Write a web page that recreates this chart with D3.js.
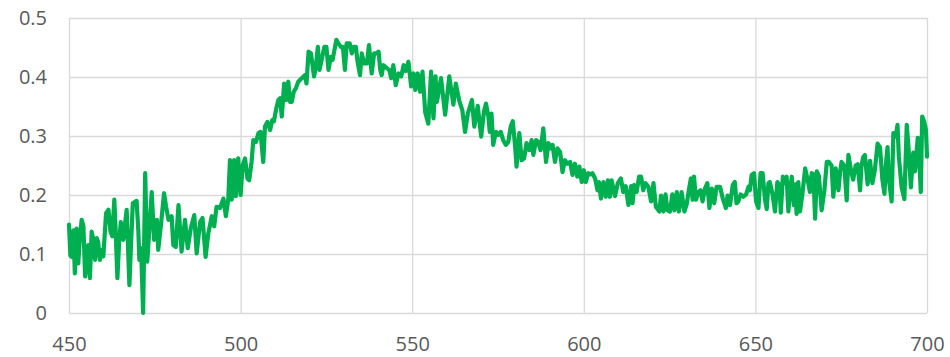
<!DOCTYPE html>
<html>
<head>
<meta charset="utf-8">
<script src="https://cdn.jsdelivr.net/npm/d3@7"></script>
<style>
  html, body { margin: 0; padding: 0; background: #ffffff; }
  svg { display: block; }
  .axis text { font-family: "Open Sans", "Liberation Sans", sans-serif; font-size: 20px; fill: #595959; }
  .axis line { stroke: #d9d9d9; stroke-width: 1.3px; }
  .axis .domain { display: none; }
</style>
</head>
<body>
<svg id="chart" width="950" height="357"></svg>
<script>
// Spectrum samples: wavelength (nm) and measured value
const wavelengths = [
  450.0, 450.4, 450.8, 451.3, 451.7, 452.2, 452.7, 453.2, 453.7, 454.2, 454.7, 455.2, 455.6, 456.1, 456.6, 457.1,
  457.6, 458.1, 458.5, 459.0, 459.5, 460.0, 460.8, 461.5, 462.1, 462.6, 463.2, 463.6, 464.1, 464.6, 465.1, 465.8,
  466.8, 467.6, 468.1, 468.6, 469.7, 470.2, 470.5, 471.0, 471.6, 472.2, 472.8, 473.5, 474.1, 474.8, 475.6, 476.0,
  476.8, 477.7, 478.3, 479.0, 479.9, 480.4, 481.1, 481.9, 482.8, 483.8, 484.6, 485.5, 486.5, 487.2, 488.2, 488.9,
  489.8, 490.6, 491.6, 492.3, 493.0, 494.0, 495.0, 495.7, 496.4, 496.9, 497.4, 498.1, 498.6, 499.3, 500.0, 500.6,
  501.3, 502.0, 502.5, 503.2, 503.7, 504.5, 505.2, 505.8, 506.6, 507.1, 507.8, 508.6, 509.2, 509.7, 510.4, 511.0,
  511.5, 512.0, 512.7, 513.3, 513.9, 514.4, 514.9, 515.5, 516.1, 516.8, 517.8, 518.7, 519.2, 519.8, 520.5, 521.4,
  521.9, 522.5, 523.0, 523.8, 524.4, 525.0, 525.6, 526.3, 526.8, 527.9, 528.5, 529.2, 529.8, 530.4, 530.9, 531.8,
  532.4, 533.0, 533.6, 534.0, 534.8, 535.3, 536.0, 536.8, 537.4, 538.2, 538.9, 539.6, 540.2, 540.7, 541.1, 541.6,
  542.6, 543.3, 543.9, 544.5, 545.2, 546.0, 546.8, 547.5, 548.1, 548.9, 549.7, 550.4, 550.9, 551.6, 552.3, 553.0,
  553.8, 554.7, 555.5, 556.2, 556.8, 557.2, 558.4, 559.6, 560.8, 562.0, 562.7, 563.7, 564.6, 565.4, 566.2, 567.4,
  568.1, 569.1, 570.1, 570.9, 571.5, 572.2, 572.6, 573.1, 573.6, 574.4, 575.1, 575.8, 576.5, 577.3, 578.0, 578.7,
  579.3, 580.0, 580.4, 581.2, 581.9, 582.6, 583.3, 584.1, 584.8, 585.3, 586.1, 586.7, 587.4, 588.2, 589.0, 589.7,
  590.3, 590.9, 591.6, 592.3, 593.1, 593.8, 594.5, 595.2, 596.0, 596.7, 597.4, 598.1, 598.7, 599.4, 600.0, 600.6,
  601.3, 602.0, 602.5, 603.3, 604.0, 604.4, 605.0, 605.7, 606.4, 607.0, 607.6, 608.1, 609.1, 609.9, 610.8, 611.5,
  612.2, 613.0, 613.8, 614.2, 614.7, 615.4, 616.1, 616.7, 617.3, 618.0, 618.8, 619.6, 620.3, 621.0, 622.0, 622.5,
  623.2, 623.8, 624.4, 625.1, 625.8, 626.4, 627.1, 627.7, 628.5, 629.3, 630.0, 630.6, 631.2, 631.7, 632.1, 632.7,
  633.4, 634.0, 634.6, 635.3, 636.0, 636.6, 637.3, 638.0, 638.7, 639.7, 640.5, 641.4, 641.9, 642.6, 643.4, 644.0,
  644.5, 645.0, 645.7, 646.5, 647.3, 648.0, 648.4, 648.9, 649.6, 650.2, 650.9, 651.5, 652.1, 652.8, 653.3, 653.8,
  654.2, 655.0, 655.7, 656.4, 657.0, 657.4, 658.0, 658.6, 659.1, 659.6, 660.1, 660.6, 661.2, 661.6, 662.0, 662.5,
  663.0, 663.7, 664.5, 665.2, 665.9, 666.4, 666.9, 667.4, 667.9, 668.5, 669.3, 670.1, 670.8, 671.4, 672.2, 672.7,
  673.4, 674.2, 674.7, 675.1, 675.9, 676.6, 677.1, 677.9, 678.5, 679.2, 679.8, 680.5, 680.9, 681.4, 681.9, 682.7,
  683.4, 684.1, 684.8, 685.6, 686.3, 687.0, 687.6, 688.0, 688.5, 688.9, 689.7, 690.2, 690.9, 691.4, 691.8, 692.6,
  693.4, 694.1, 694.6, 695.3, 696.0, 696.5, 697.3, 697.7, 698.2, 698.6, 699.2, 699.7, 700.0
];

const values = [
  0.150, 0.097, 0.095, 0.140, 0.067, 0.143, 0.084, 0.130, 0.158, 0.147, 0.062, 0.090, 0.115, 0.059, 0.138, 0.124,
  0.090, 0.127, 0.120, 0.090, 0.107, 0.096, 0.169, 0.175, 0.138, 0.130, 0.192, 0.140, 0.059, 0.120, 0.154, 0.124,
  0.175, 0.047, 0.120, 0.186, 0.190, 0.140, 0.090, 0.110, 0.000, 0.237, 0.087, 0.150, 0.205, 0.124, 0.158, 0.107,
  0.150, 0.203, 0.180, 0.158, 0.164, 0.115, 0.112, 0.183, 0.104, 0.158, 0.110, 0.144, 0.166, 0.101, 0.154, 0.161,
  0.095, 0.135, 0.164, 0.147, 0.180, 0.178, 0.194, 0.164, 0.192, 0.259, 0.192, 0.259, 0.198, 0.262, 0.200, 0.250,
  0.262, 0.228, 0.225, 0.256, 0.293, 0.290, 0.305, 0.307, 0.256, 0.316, 0.324, 0.310, 0.327, 0.325, 0.347, 0.361,
  0.364, 0.333, 0.389, 0.361, 0.392, 0.358, 0.358, 0.375, 0.381, 0.392, 0.398, 0.403, 0.389, 0.443, 0.440, 0.401,
  0.415, 0.451, 0.412, 0.434, 0.451, 0.451, 0.412, 0.434, 0.429, 0.463, 0.457, 0.451, 0.451, 0.412, 0.457, 0.457,
  0.440, 0.451, 0.451, 0.429, 0.403, 0.440, 0.423, 0.423, 0.454, 0.406, 0.440, 0.440, 0.443, 0.412, 0.403, 0.420,
  0.415, 0.412, 0.398, 0.420, 0.386, 0.406, 0.401, 0.420, 0.410, 0.426, 0.384, 0.406, 0.378, 0.406, 0.375, 0.409,
  0.340, 0.321, 0.409, 0.330, 0.401, 0.358, 0.398, 0.336, 0.401, 0.353, 0.389, 0.360, 0.344, 0.307, 0.338, 0.361,
  0.316, 0.351, 0.299, 0.341, 0.355, 0.333, 0.307, 0.338, 0.285, 0.307, 0.302, 0.307, 0.293, 0.285, 0.290, 0.316,
  0.325, 0.282, 0.248, 0.305, 0.259, 0.262, 0.288, 0.276, 0.293, 0.268, 0.293, 0.290, 0.276, 0.313, 0.256, 0.288,
  0.279, 0.285, 0.256, 0.279, 0.273, 0.239, 0.259, 0.253, 0.256, 0.234, 0.253, 0.231, 0.248, 0.222, 0.242, 0.222,
  0.237, 0.235, 0.237, 0.228, 0.208, 0.222, 0.194, 0.222, 0.197, 0.225, 0.197, 0.225, 0.198, 0.220, 0.228, 0.205,
  0.215, 0.183, 0.215, 0.186, 0.217, 0.205, 0.231, 0.231, 0.208, 0.220, 0.214, 0.189, 0.220, 0.180, 0.172, 0.199,
  0.172, 0.201, 0.174, 0.172, 0.201, 0.174, 0.205, 0.172, 0.205, 0.172, 0.185, 0.208, 0.228, 0.192, 0.231, 0.192,
  0.205, 0.208, 0.189, 0.211, 0.220, 0.178, 0.211, 0.186, 0.214, 0.214, 0.194, 0.178, 0.199, 0.183, 0.217, 0.222,
  0.186, 0.189, 0.201, 0.197, 0.201, 0.214, 0.208, 0.234, 0.237, 0.189, 0.178, 0.237, 0.237, 0.192, 0.176, 0.220,
  0.222, 0.201, 0.172, 0.222, 0.217, 0.170, 0.231, 0.220, 0.231, 0.172, 0.208, 0.231, 0.183, 0.218, 0.168, 0.222,
  0.172, 0.202, 0.245, 0.226, 0.205, 0.237, 0.235, 0.160, 0.240, 0.232, 0.174, 0.208, 0.256, 0.256, 0.250, 0.197,
  0.245, 0.208, 0.240, 0.256, 0.250, 0.191, 0.268, 0.240, 0.226, 0.250, 0.252, 0.208, 0.249, 0.264, 0.268, 0.218,
  0.258, 0.220, 0.242, 0.287, 0.281, 0.226, 0.202, 0.250, 0.281, 0.226, 0.189, 0.305, 0.299, 0.319, 0.265, 0.213,
  0.193, 0.319, 0.281, 0.213, 0.272, 0.240, 0.297, 0.265, 0.205, 0.333, 0.324, 0.310, 0.265
];

const xTicks = [450, 500, 550, 600, 650, 700];
const yTicks = [0, 0.1, 0.2, 0.3, 0.4, 0.5];

const margin = { top: 18, right: 23, bottom: 44, left: 69 };
const width = 950, height = 357;
const innerW = width - margin.left - margin.right;
const innerH = height - margin.top - margin.bottom;

const svg = d3.select("#chart");
const g = svg.append("g").attr("transform", `translate(${margin.left},${margin.top})`);

const x = d3.scaleLinear().domain([450, 700]).range([0, innerW]);
const y = d3.scaleLinear().domain([0, 0.5]).range([innerH, 0]);

// Horizontal gridlines with value labels
g.append("g")
  .attr("class", "axis y-axis")
  .call(d3.axisLeft(y)
    .tickValues(yTicks)
    .tickSize(-innerW)
    .tickPadding(22)
    .tickFormat(d3.format("~g")));

// Vertical gridlines with wavelength labels
g.append("g")
  .attr("class", "axis x-axis")
  .attr("transform", `translate(0,${innerH})`)
  .call(d3.axisBottom(x)
    .tickValues(xTicks)
    .tickSize(-innerH)
    .tickPadding(24)
    .tickFormat(d3.format("d")));

const points = wavelengths.map((w, i) => [w, values[i]]);

const line = d3.line()
  .x(d => x(d[0]))
  .y(d => y(d[1]));

g.append("path")
  .datum(points)
  .attr("fill", "none")
  .attr("stroke", "#00b050")
  .attr("stroke-width", 4.2)
  .attr("stroke-linejoin", "round")
  .attr("stroke-linecap", "round")
  .attr("d", line);
</script>
</body>
</html>
